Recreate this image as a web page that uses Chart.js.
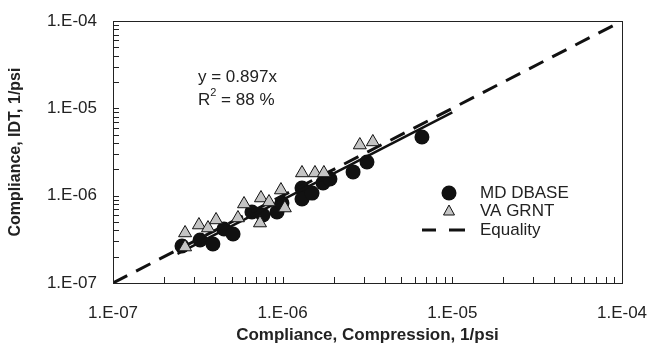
<!DOCTYPE html>
<html>
<head>
<meta charset="utf-8">
<script src="https://cdn.jsdelivr.net/npm/chart.js@4"></script>
<style>
  html, body { margin: 0; padding: 0; background: #fff; }
  #box { width: 649px; height: 356px; }
</style>
</head>
<body>
<div id="box"><canvas id="grafico"></canvas></div>
<script>
// valores (1/psi)
const mdX = [2.55e-7, 3.26e-7, 3.88e-7, 4.51e-7, 5.10e-7, 6.59e-7, 7.65e-7, 9.26e-7, 9.9e-7,
             1.30e-6, 1.30e-6, 1.49e-6, 1.73e-6, 1.90e-6, 2.60e-6, 3.14e-6, 6.62e-6];
const mdY = [2.65e-7, 3.11e-7, 2.80e-7, 4.15e-7, 3.64e-7, 6.50e-7, 6.01e-7, 6.50e-7, 8.24e-7,
             1.22e-6, 9.16e-7, 1.07e-6, 1.40e-6, 1.55e-6, 1.87e-6, 2.43e-6, 4.70e-6];

const vaX = [2.66e-7, 2.66e-7, 3.21e-7, 3.63e-7, 4.05e-7, 5.45e-7, 5.92e-7, 7.45e-7, 7.35e-7,
             8.31e-7, 9.77e-7, 1.03e-6, 1.30e-6, 1.55e-6, 1.75e-6, 2.85e-6, 3.40e-6];
const vaY = [3.74e-7, 2.58e-7, 4.61e-7, 4.26e-7, 5.27e-7, 5.55e-7, 8.03e-7, 9.40e-7, 4.86e-7,
             8.46e-7, 1.16e-6, 7.22e-7, 1.82e-6, 1.82e-6, 1.82e-6, 3.80e-6, 4.12e-6];

const fitSlope = 0.897;
const fitX = [2.4e-7, 1e-5];
const equalityX = [1e-7, 1e-4];
const tickValues = [1e-7, 1e-6, 1e-5, 1e-4];

const seriesNames = ['MD DBASE', 'VA GRNT', 'Equality'];
const eqText = 'y = 0.897x';
const r2Text = ' = 88 %';
const xTitle = 'Compliance, Compression, 1/psi';
const yTitle = 'Compliance, IDT, 1/psi';

const texto = '#222';
const fonte = '"Liberation Sans", Arial, sans-serif';

function formatoE(v) {
    const e = Math.round(Math.log10(v));
    const s = Math.abs(e) < 10 ? '0' + Math.abs(e) : '' + Math.abs(e);
    return '1.E' + (e < 0 ? '-' : '+') + s;
}

const dataGrafico = {
    datasets: [
        {
            label: seriesNames[0],
            data: mdX.map((x, i) => ({ x: x, y: mdY[i] })),
            pointStyle: 'circle',
            pointRadius: 7.5,
            backgroundColor: '#111',
            borderColor: '#111',
            borderWidth: 0,
            order: 4
        },
        {
            label: seriesNames[2],
            type: 'line',
            data: equalityX.map(x => ({ x: x, y: x })),
            borderColor: '#111',
            borderWidth: 3,
            borderDash: [16, 10],
            pointRadius: 0,
            fill: false,
            order: 3
        },
        {
            label: 'fit',
            type: 'line',
            data: fitX.map(x => ({ x: x, y: fitSlope * x })),
            borderColor: '#111',
            borderWidth: 2.5,
            pointRadius: 0,
            fill: false,
            order: 2
        },
        {
            label: seriesNames[1],
            data: vaX.map((x, i) => ({ x: x, y: vaY[i] })),
            pointStyle: 'triangle',
            pointRadius: 7.5,
            backgroundColor: '#c4c4c4',
            borderColor: '#111',
            borderWidth: 1,
            order: 1
        }
    ]
};

const soDecadas = (scale) => {
    scale.ticks = tickValues.map(v => ({ value: v }));
};

const molduraPlugin = {
    id: 'moldura',
    afterDraw(chart) {
        const { ctx, chartArea: a, scales: { x, y } } = chart;
        ctx.save();
        ctx.strokeStyle = '#222';
        ctx.lineWidth = 1;
        ctx.strokeRect(Math.round(a.left) + 0.5, Math.round(a.top) + 0.5,
                       Math.round(a.right - a.left), Math.round(a.bottom - a.top));

        // marcas internas dos eixos log
        ctx.beginPath();
        for (let d = -7; d < -4; d++) {
            for (let m = 1; m <= 10; m++) {
                const v = m * Math.pow(10, d);
                const px = Math.round(x.getPixelForValue(v)) + 0.5;
                ctx.moveTo(px, a.bottom);
                ctx.lineTo(px, a.bottom - 6);
                const py = Math.round(y.getPixelForValue(v)) + 0.5;
                ctx.moveTo(a.left, py);
                ctx.lineTo(a.left + 6, py);
            }
        }
        ctx.stroke();

        // equacao
        ctx.fillStyle = texto;
        ctx.font = '17px ' + fonte;
        ctx.textBaseline = 'middle';
        ctx.textAlign = 'left';
        ctx.fillText(eqText, 198, 77);
        ctx.fillText('R', 198, 100);
        const wR = ctx.measureText('R').width;
        ctx.font = '11px ' + fonte;
        ctx.fillText('2', 198 + wR, 93);
        const w2 = ctx.measureText('2').width;
        ctx.font = '17px ' + fonte;
        ctx.fillText(r2Text, 198 + wR + w2, 100);

        // legenda
        const lx = 449, tx = 480;
        const ly = [193, 211, 230];
        ctx.fillStyle = '#111';
        ctx.beginPath();
        ctx.arc(lx, ly[0], 7.5, 0, Math.PI * 2);
        ctx.fill();
        ctx.beginPath();
        ctx.moveTo(lx, ly[1] - 6);
        ctx.lineTo(lx + 5.5, ly[1] + 4);
        ctx.lineTo(lx - 5.5, ly[1] + 4);
        ctx.closePath();
        ctx.fillStyle = '#c4c4c4';
        ctx.fill();
        ctx.strokeStyle = '#111';
        ctx.lineWidth = 1;
        ctx.stroke();
        ctx.lineWidth = 3;
        ctx.beginPath();
        ctx.moveTo(422, ly[2]); ctx.lineTo(436, ly[2]);
        ctx.moveTo(449, ly[2]); ctx.lineTo(465, ly[2]);
        ctx.stroke();
        ctx.fillStyle = texto;
        ctx.font = '17px ' + fonte;
        seriesNames.forEach((n, i) => ctx.fillText(n, tx, ly[i]));
        ctx.restore();
    }
};

const configGrafico = {
    type: 'scatter',
    data: dataGrafico,
    options: {
        responsive: true,
        maintainAspectRatio: false,
        animation: false,
        layout: { padding: 0 },
        plugins: {
            legend: { display: false },
            tooltip: { enabled: false }
        },
        scales: {
            x: {
                type: 'logarithmic',
                min: 1e-7,
                max: 1e-4,
                afterBuildTicks: soDecadas,
                afterFit: (s) => { s.height = 73; s.paddingLeft = 0; s.paddingRight = 27; },
                grid: { display: false, drawTicks: false },
                border: { display: false },
                ticks: {
                    autoSkip: false,
                    maxRotation: 0,
                    padding: 20,
                    color: texto,
                    font: { family: fonte, size: 17 },
                    callback: (v) => formatoE(v)
                },
                title: {
                    display: true,
                    text: xTitle,
                    color: texto,
                    padding: { top: 0, bottom: 10 },
                    font: { family: fonte, size: 17, weight: 'bold' }
                }
            },
            y: {
                type: 'logarithmic',
                min: 1e-7,
                max: 1e-4,
                afterBuildTicks: soDecadas,
                afterFit: (s) => { s.width = 113; s.paddingTop = 21; s.paddingBottom = 0; },
                grid: { display: false, drawTicks: false },
                border: { display: false },
                ticks: {
                    autoSkip: false,
                    padding: 16,
                    color: texto,
                    font: { family: fonte, size: 17 },
                    callback: (v) => formatoE(v)
                },
                title: {
                    display: true,
                    text: yTitle,
                    color: texto,
                    padding: { top: 6, bottom: 0 },
                    font: { family: fonte, size: 16, weight: 'bold' }
                }
            }
        }
    },
    plugins: [molduraPlugin]
};

const instanciaGrafico = new Chart(document.getElementById('grafico'), configGrafico);
</script>
</body>
</html>
